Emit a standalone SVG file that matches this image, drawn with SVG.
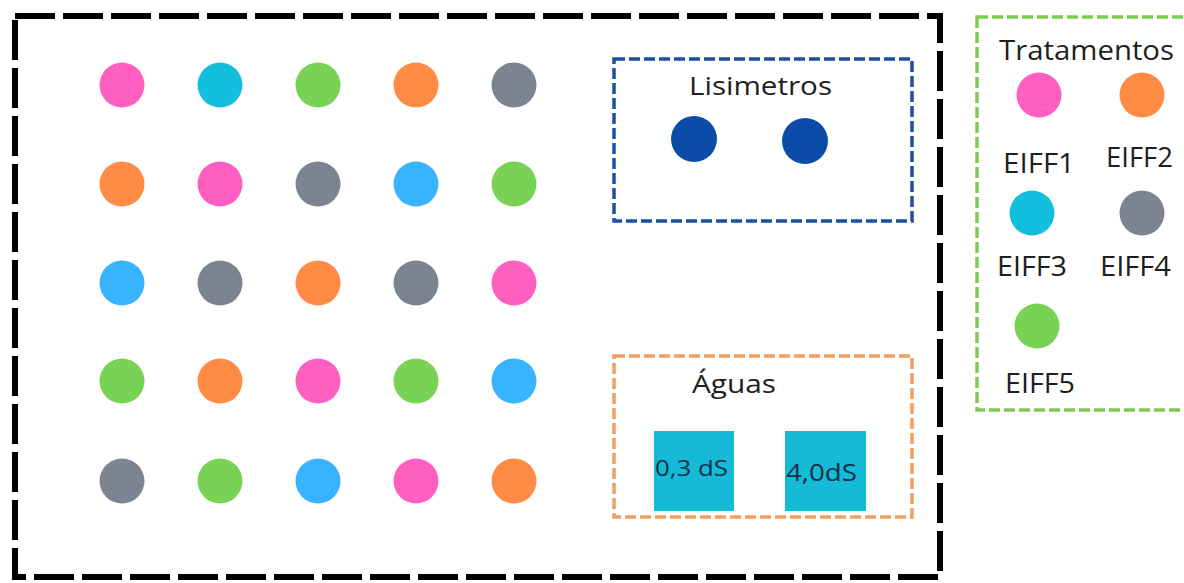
<svg xmlns="http://www.w3.org/2000/svg" width="1184" height="583" viewBox="0 0 1184 583">
<style>
text{font-family:"Open Sans","DejaVu Sans",sans-serif;fill:#1e1e1e}
.pink{fill:#ff5fc0}.cyan{fill:#14bedd}.green{fill:#78d253}.orange{fill:#ff8b45}.gray{fill:#7b8490}.lblue{fill:#38b3ff}.dblue{fill:#0b4ca8}
.lab{font-size:28px}
</style>
<rect width="1184" height="583" fill="#ffffff"/>
<g id="field">
<rect x="15" y="16" width="925" height="561" fill="none" stroke="#000" stroke-width="6" stroke-dasharray="40 8"/>
</g>
<g id="plots">
<circle class="pink" cx="122" cy="85" r="22.5"/><circle class="cyan" cx="220" cy="85" r="22.5"/><circle class="green" cx="318" cy="85" r="22.5"/><circle class="orange" cx="416" cy="85" r="22.5"/><circle class="gray" cx="514" cy="85" r="22.5"/>
<circle class="orange" cx="122" cy="184" r="22.5"/><circle class="pink" cx="220" cy="184" r="22.5"/><circle class="gray" cx="318" cy="184" r="22.5"/><circle class="lblue" cx="416" cy="184" r="22.5"/><circle class="green" cx="514" cy="184" r="22.5"/>
<circle class="lblue" cx="122" cy="283" r="22.5"/><circle class="gray" cx="220" cy="283" r="22.5"/><circle class="orange" cx="318" cy="283" r="22.5"/><circle class="gray" cx="416" cy="283" r="22.5"/><circle class="pink" cx="514" cy="283" r="22.5"/>
<circle class="green" cx="122" cy="381" r="22.5"/><circle class="orange" cx="220" cy="381" r="22.5"/><circle class="pink" cx="318" cy="381" r="22.5"/><circle class="green" cx="416" cy="381" r="22.5"/><circle class="lblue" cx="514" cy="381" r="22.5"/>
<circle class="gray" cx="122" cy="481" r="22.5"/><circle class="green" cx="220" cy="481" r="22.5"/><circle class="lblue" cx="318" cy="481" r="22.5"/><circle class="pink" cx="416" cy="481" r="22.5"/><circle class="orange" cx="514" cy="481" r="22.5"/>
</g>
<g id="lisimetros">
<rect x="614" y="59" width="298" height="162" fill="none" stroke="#1f4f9f" stroke-width="3.5" stroke-dasharray="11 4"/>
<text x="689" y="95" font-size="25" textLength="143" lengthAdjust="spacingAndGlyphs">Lisimetros</text>
<circle class="dblue" cx="694" cy="139" r="23"/>
<circle class="dblue" cx="805" cy="141" r="23"/>
</g>
<g id="aguas">
<rect x="614" y="356" width="298" height="161" fill="none" stroke="#f0a060" stroke-width="3.5" stroke-dasharray="11 4"/>
<text x="692" y="393" font-size="25" textLength="84" lengthAdjust="spacingAndGlyphs">Águas</text>
<rect x="654" y="431" width="80" height="80" fill="#14bad6"/>
<rect x="785" y="431" width="81" height="80" fill="#14bad6"/>
<text x="655" y="476" font-size="22" textLength="73" lengthAdjust="spacingAndGlyphs" style="fill:#14304a">0,3 dS</text>
<text x="786" y="481" font-size="23" textLength="71" lengthAdjust="spacingAndGlyphs" style="fill:#14304a">4,0dS</text>
</g>
<g id="tratamentos">
<rect x="977" y="17" width="220" height="393" fill="none" stroke="#7dcb55" stroke-width="3.5" stroke-dasharray="11 4"/>
<text x="999" y="60" class="lab" textLength="175" lengthAdjust="spacingAndGlyphs">Tratamentos</text>
<circle class="pink" cx="1039" cy="95" r="22.5"/>
<circle class="orange" cx="1142" cy="95" r="22.5"/>
<text x="1003" y="173" class="lab" textLength="72" lengthAdjust="spacingAndGlyphs">EIFF1</text>
<text x="1106" y="167" class="lab" textLength="67" lengthAdjust="spacingAndGlyphs">EIFF2</text>
<circle class="cyan" cx="1032" cy="213" r="22.5"/>
<circle class="gray" cx="1142" cy="213" r="22.5"/>
<text x="997" y="276" class="lab" textLength="70" lengthAdjust="spacingAndGlyphs">EIFF3</text>
<text x="1100" y="276" class="lab" textLength="71" lengthAdjust="spacingAndGlyphs">EIFF4</text>
<circle class="green" cx="1037" cy="326" r="22.5"/>
<text x="1005" y="393" class="lab" textLength="70" lengthAdjust="spacingAndGlyphs">EIFF5</text>
</g>
<g id="connectors"/>
</svg>
